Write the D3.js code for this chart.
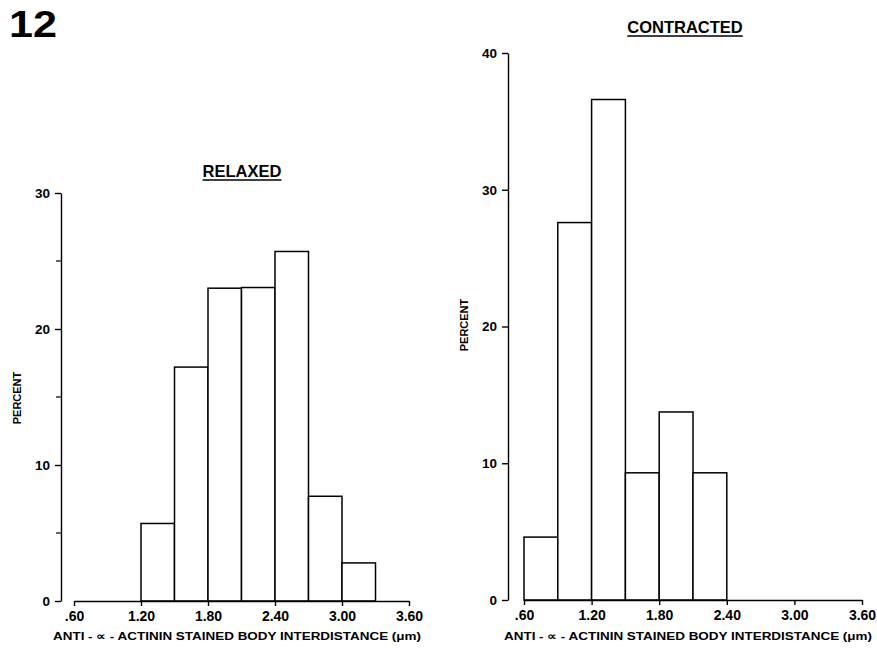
<!DOCTYPE html>
<html>
<head>
<meta charset="utf-8">
<script src="https://cdn.jsdelivr.net/npm/d3@7"></script>
<style>
  html, body { margin: 0; padding: 0; background: #fff; }
  svg { display: block; }
  text { font-family: "Liberation Sans", Arial, Helvetica, sans-serif; font-weight: bold; fill: #000; }
</style>
</head>
<body>
<svg id="chart" width="877" height="651"></svg>
<script>
// ---- data ----
const figureNumber = "12";
const binWidth = 0.3;
const xTicks = [0.6, 1.2, 1.8, 2.4, 3.0, 3.6];
const xTickLabels = [".60", "1.20", "1.80", "2.40", "3.00", "3.60"];
const xTitle = "ANTI - \u221D - ACTININ STAINED BODY INTERDISTANCE (\u03BCm)";
const yTitle = "PERCENT";

const relaxedTitle = "RELAXED";
const relaxedBinStart = [1.2, 1.5, 1.8, 2.1, 2.4, 2.7, 3.0];
const relaxedPercent = [5.7, 17.2, 23.0, 23.05, 25.7, 7.7, 2.8];
const relaxedYTicks = [0, 10, 20, 30];
const relaxedYMinorTicks = [5, 15, 25];

const contractedTitle = "CONTRACTED";
const contractedBinStart = [0.6, 0.9, 1.2, 1.5, 1.8, 2.1];
const contractedPercent = [4.6, 27.6, 36.6, 9.3, 13.75, 9.3];
const contractedYTicks = [0, 10, 20, 30, 40];
const contractedYMinorTicks = [];

// ---- drawing ----
const svg = d3.select("#chart");

svg.append("text")
  .attr("x", 9).attr("y", 37)
  .attr("font-size", 36)
  .attr("textLength", 48).attr("lengthAdjust", "spacingAndGlyphs")
  .text(figureNumber);

function panel(cfg) {
  const x = d3.scaleLinear().domain([0.6, 3.6]).range(cfg.xRange);
  const y = d3.scaleLinear().domain(cfg.yDomain).range(cfg.yRange);
  const g = svg.append("g");

  // bars
  const data = cfg.start.map((s, i) => ({ s, v: cfg.values[i] }));
  g.selectAll("rect.bar").data(data).join("rect")
    .attr("class", "bar")
    .attr("x", d => x(d.s))
    .attr("width", d => x(d.s + binWidth) - x(d.s))
    .attr("y", d => y(d.v))
    .attr("height", d => y(0) - y(d.v))
    .attr("fill", "#fff")
    .attr("stroke", "#000")
    .attr("stroke-width", 1.5);

  // y axis
  const ya = g.append("g")
    .attr("transform", `translate(${cfg.yAxisX},0)`)
    .call(d3.axisLeft(y).tickValues(cfg.yTicks).tickFormat(d3.format("d"))
      .tickSize(6).tickSizeOuter(0).tickPadding(5));
  ya.selectAll("text").attr("font-size", 13.5).attr("font-family", null);
  ya.selectAll("path, line").attr("stroke", "#000").attr("stroke-width", 1.4);
  ya.selectAll(".minor").data(cfg.minor).join("line")
    .attr("x1", -5).attr("x2", 0)
    .attr("y1", d => y(d)).attr("y2", d => y(d))
    .attr("stroke", "#000").attr("stroke-width", 1.2);

  // x axis
  const xa = g.append("g")
    .attr("transform", `translate(0,${y(0)})`)
    .call(d3.axisBottom(x).tickValues(xTicks)
      .tickFormat((d, i) => xTickLabels[i])
      .tickSize(5).tickSizeOuter(0).tickPadding(5));
  xa.selectAll("text").attr("font-size", 14).attr("font-family", null);
  xa.selectAll("path, line").attr("stroke", "#000").attr("stroke-width", 1.4);

  // x title
  g.append("text")
    .attr("x", cfg.xTitleX).attr("y", 640)
    .attr("text-anchor", "middle")
    .attr("font-size", 11)
    .attr("textLength", 368).attr("lengthAdjust", "spacingAndGlyphs")
    .text(xTitle);

  // y title
  g.append("text")
    .attr("transform", `translate(${cfg.yTitlePos[0]},${cfg.yTitlePos[1]}) rotate(-90)`)
    .attr("text-anchor", "middle")
    .attr("font-size", 11)
    .text(yTitle);

  // panel title with underline
  const t = g.append("text")
    .attr("x", cfg.titlePos[0]).attr("y", cfg.titlePos[1])
    .attr("text-anchor", "middle")
    .attr("font-size", 16.5)
    .text(cfg.title);
  const w = t.node().getComputedTextLength();
  g.append("line")
    .attr("x1", cfg.titlePos[0] - w / 2).attr("x2", cfg.titlePos[0] + w / 2)
    .attr("y1", cfg.titlePos[1] + 3).attr("y2", cfg.titlePos[1] + 3)
    .attr("stroke", "#000").attr("stroke-width", 1.5);
}

panel({
  xRange: [74, 409], yDomain: [0, 30], yRange: [601, 193], yAxisX: 61,
  start: relaxedBinStart, values: relaxedPercent,
  yTicks: relaxedYTicks, minor: relaxedYMinorTicks,
  xTitleX: 237, yTitlePos: [21, 398], titlePos: [242, 177], title: relaxedTitle
});

panel({
  xRange: [524, 862], yDomain: [0, 40], yRange: [600, 53], yAxisX: 508,
  start: contractedBinStart, values: contractedPercent,
  yTicks: contractedYTicks, minor: contractedYMinorTicks,
  xTitleX: 688, yTitlePos: [468, 325], titlePos: [685, 33], title: contractedTitle
});
</script>
</body>
</html>
